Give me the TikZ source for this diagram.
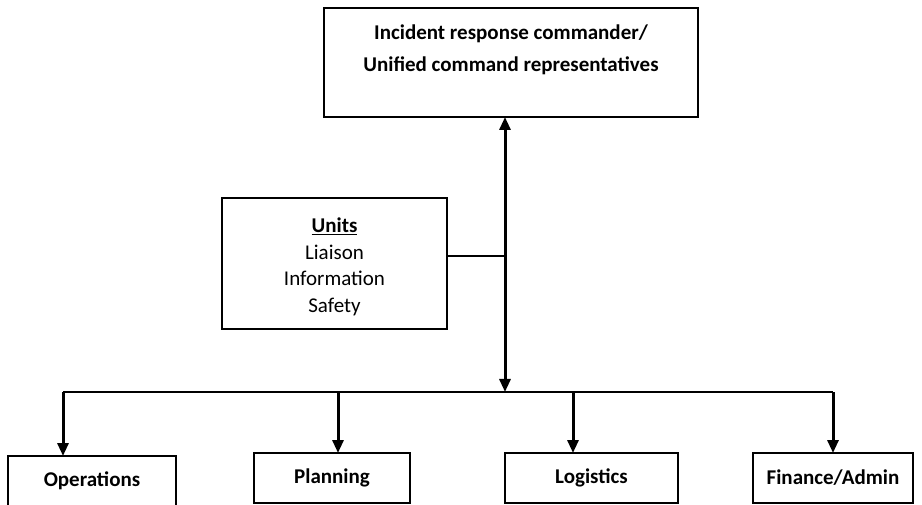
\documentclass[tikz,border=0pt]{standalone}
\usepackage{fontspec}
\setmainfont{Carlito}
\usetikzlibrary{arrows.meta}
\begin{document}
\begin{tikzpicture}[x=1pt,y=-1pt,
  box/.style={draw,line width=1.3pt,inner sep=0pt},
  lbl/.style={font=\bfseries\fontsize{21}{26}\selectfont},
  feed/.style={line width=1.5pt},
  arr/.style={line width=3pt,-{Triangle[length=13pt,width=11pt]}},
  darr/.style={line width=3pt,{Triangle[length=13pt,width=11pt]}-{Triangle[length=13pt,width=11pt]}}]
\useasboundingbox (0,0) rectangle (922,505);
\clip (0,0) rectangle (922,505);
% top box
\draw[box] (324,8) rectangle (698,117);
\node (top) at (511,62.5) [minimum width=374pt,minimum height=109pt] {};
\node[lbl] at (511,34) {Incident response commander/};
\node[lbl] at (511,66) {Unified command representatives};
% units box
\draw[box] (222,198) rectangle (447,329);
\node (units) at (334.5,263.5) [minimum width=225pt,minimum height=131pt] {};
\node[font=\fontsize{21}{26.5}\selectfont,align=center] at (334.5,267) {\textbf{\underline{Units}}\\Liaison\\Information\\Safety};
% bus
\coordinate (bus) at (505,392);
\coordinate (busL) at (63,392);
\coordinate (busR) at (833,392);
\coordinate (uj) at (505,256);
\draw[feed] (busL) -- (busR);
\draw[feed] (447,256) -- (uj);
\draw[darr] (505,117) -- (bus);
% bottom boxes
\draw[box] (8,456) rectangle (176,520);
\node[lbl] (ops) at (92,481) {Operations};
\draw[box] (254,453) rectangle (410,503);
\node[lbl] (plan) at (332,478) {Planning};
\draw[box] (505,453) rectangle (678,503);
\node[lbl] (log) at (591.5,478) {Logistics};
\draw[box] (753,453) rectangle (913,503);
\node[lbl] (fin) at (833,478) {Finance/Admin};
\draw[arr] (busL) -- (63,456);
\draw[arr] (338,392) -- (338,453);
\draw[arr] (573,392) -- (573,453);
\draw[arr] (busR) -- (833,453);
\end{tikzpicture}
\end{document}
